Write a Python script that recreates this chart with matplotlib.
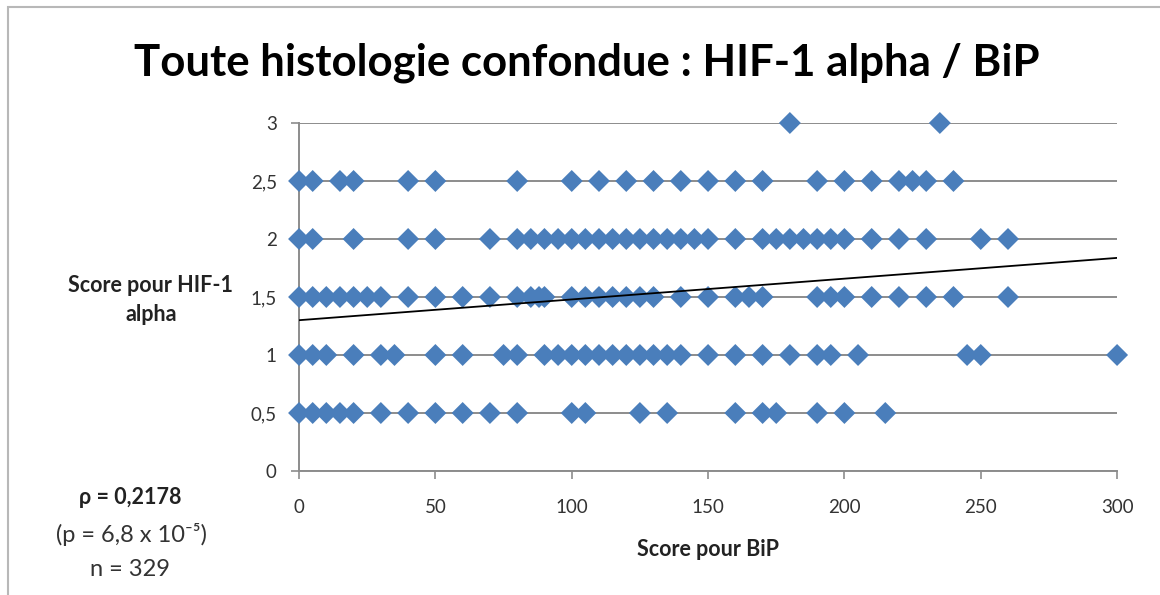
import matplotlib.pyplot as plt
import numpy as np
from matplotlib.patches import Rectangle
from matplotlib.ticker import FuncFormatter

# BiP score values, grouped by HIF-1 alpha score
bip_05 = [0, 5, 10, 15, 20, 30, 40, 50, 60, 70, 80, 100, 105, 125, 135,
          160, 170, 175, 190, 200, 215]
bip_10 = [0, 5, 10, 20, 30, 35, 50, 60, 75, 80, 90, 95, 100, 105, 110, 115,
          120, 125, 130, 135, 140, 150, 160, 170, 180, 190, 195, 205, 245,
          250, 300]
bip_15 = [0, 5, 10, 15, 20, 25, 30, 40, 50, 60, 70, 80, 85, 88, 90, 100,
          105, 110, 115, 120, 125, 130, 140, 150, 160, 165, 170, 190, 195,
          200, 210, 220, 230, 240, 260]
bip_20 = [0, 5, 20, 40, 50, 70, 80, 85, 90, 95, 100, 105, 110, 115, 120,
          125, 130, 135, 140, 145, 150, 160, 170, 175, 180, 185, 190, 195,
          200, 210, 220, 230, 250, 260]
bip_25 = [0, 5, 15, 20, 40, 50, 80, 100, 110, 120, 130, 140, 150, 160, 170,
          190, 200, 210, 220, 225, 230, 240]
bip_30 = [180, 235]

hif_levels = [0.5, 1.0, 1.5, 2.0, 2.5, 3.0]
groups = [bip_05, bip_10, bip_15, bip_20, bip_25, bip_30]

# linear trend line as shown on the chart
trend_intercept = 1.30
trend_slope = 0.00179

xs = np.concatenate([np.array(g, dtype=float) for g in groups])
ys = np.concatenate([np.full(len(g), lvl) for g, lvl in zip(groups, hif_levels)])

FONT = ["Lato", "DejaVu Sans"]
plt.rcParams["font.family"] = FONT

fig = plt.figure(figsize=(11.6, 5.95), dpi=100)
ax = fig.add_axes([0.2578, 0.2084, 0.963 - 0.2578, 0.7933 - 0.2084])

# chart border (light gray frame, top and left visible)
fig.patches.append(Rectangle((8 / 1160, -0.1), 1.2, 1.0 - 7 / 595 + 0.1,
                             transform=fig.transFigure, fill=False,
                             edgecolor="#b8b8b8", lw=1.5))

ax.set_axisbelow(True)
ax.yaxis.grid(True, color="#8c8c8c", lw=1.4)
ax.scatter(xs, ys, marker="D", s=125, color="#4a7ebb", edgecolors="none",
           zorder=3, clip_on=False)

tx = np.array([0.0, 300.0])
ax.plot(tx, trend_intercept + trend_slope * tx, color="black", lw=1.3, zorder=4)

ax.set_xlim(0, 300)
ax.set_ylim(0, 3)
ax.set_xticks(np.arange(0, 301, 50))
ax.set_yticks(np.arange(0, 3.01, 0.5))

def comma(v, pos):
    return f"{v:g}".replace(".", ",")

ax.yaxis.set_major_formatter(FuncFormatter(comma))
ax.xaxis.set_major_formatter(FuncFormatter(comma))

for side in ["top", "right"]:
    ax.spines[side].set_visible(False)
for side in ["left", "bottom"]:
    ax.spines[side].set_color("#8c8c8c")
    ax.spines[side].set_linewidth(1.4)
ax.tick_params(axis="both", colors="#8c8c8c", length=6, width=1.2,
               labelcolor="#333333", labelsize=13.5)
ax.tick_params(axis="x", pad=14)
ax.tick_params(axis="y", pad=10)

fig.text(0.506, 0.895, "Toute histologie confondue : HIF-1 alpha / BiP",
         ha="center", va="center", fontsize=31.5, fontweight="bold",
         color="black")

fig.text(708 / 1160, 1 - 550 / 595, "Score pour BiP", ha="center", va="center",
         fontsize=15.5, fontweight="bold", color="#222222")
fig.text(151 / 1160, 1 - 300 / 595, "Score pour HIF-1\nalpha", ha="center",
         va="center", fontsize=15.5, fontweight="bold", color="#222222",
         linespacing=1.45)

fig.text(130 / 1160, 1 - 498 / 595, "ρ = 0,2178", ha="center", va="center",
         fontsize=15.5, fontweight="bold", color="#222222")
fig.text(131 / 1160, 1 - 535 / 595, "(p = 6,8 x 10⁻⁵)", ha="center",
         va="center", fontsize=17, color="#333333")
fig.text(130 / 1160, 1 - 570 / 595, "n = 329", ha="center", va="center",
         fontsize=17, color="#333333")

fig.savefig("out.png", dpi=100)
